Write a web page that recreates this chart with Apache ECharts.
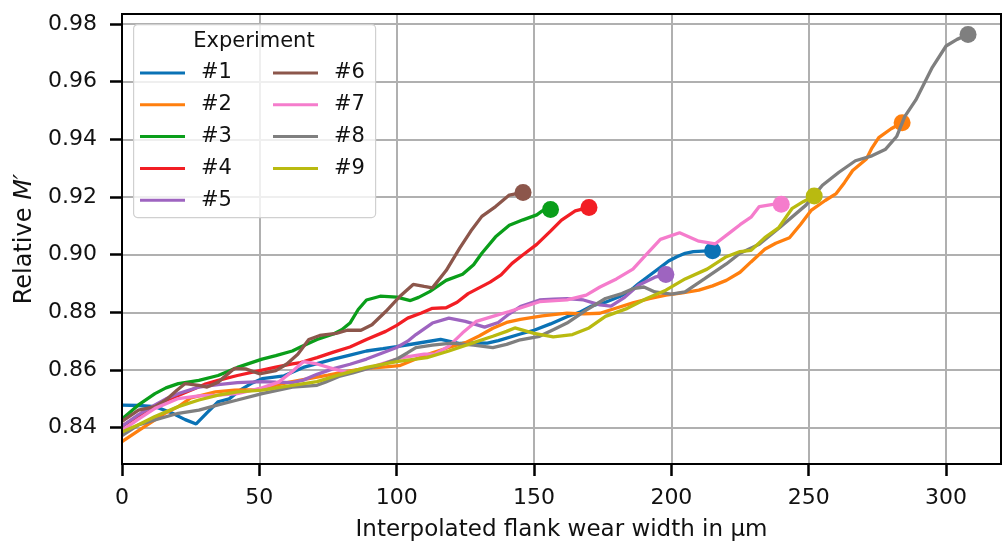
<!DOCTYPE html>
<html>
<head>
<meta charset="utf-8">
<script src="https://cdn.jsdelivr.net/npm/echarts@6/dist/echarts.min.js"></script>
<style>html,body{margin:0;padding:0;background:#fff;overflow:hidden}#c{width:1003px;height:547px}</style>
</head>
<body>
<div id="c"></div>
<script>
const seriesNames = ['#1','#2','#3','#4','#5','#6','#7','#8','#9'];
const xTicks = [0,50,100,150,200,250,300];
const yTicks = [0.84,0.86,0.88,0.90,0.92,0.94,0.96,0.98];

const s1 = [[0,0.8478],[6,0.8477],[12,0.8473],[18,0.8452],[23,0.8428],[27,0.8413],[31,0.8452],[35,0.849],[39,0.85],[43,0.853],[47,0.8553],[51,0.857],[59,0.858],[66,0.8609],[72,0.8625],[77,0.8638],[83,0.8652],[89,0.8666],[95,0.8674],[100,0.8681],[107,0.8692],[116,0.8706],[123,0.8692],[128,0.8694],[133,0.8693],[137,0.8702],[145,0.8725],[150,0.8738],[156,0.876],[162,0.8785],[167,0.8802],[171,0.8822],[176,0.8835],[181,0.8854],[185,0.8875],[188,0.8899],[192,0.8928],[196,0.8956],[199,0.8978],[202,0.8993],[205,0.9005],[208,0.9011],[215,0.9014]];
const s2 = [[0,0.8352],[6,0.839],[12,0.8427],[16,0.8452],[20.5,0.8473],[25,0.8503],[30,0.8515],[34,0.8524],[41,0.853],[49,0.8532],[55,0.8545],[61,0.8558],[68,0.857],[75,0.8582],[82,0.8595],[88,0.8605],[95,0.861],[101,0.8615],[107,0.8638],[113,0.866],[119,0.8678],[125,0.8695],[130,0.8718],[135,0.8745],[140,0.8765],[145,0.8776],[153,0.8788],[162,0.8797],[168,0.8795],[174,0.8797],[180,0.8815],[186,0.8833],[192,0.8848],[198,0.886],[204,0.8868],[210,0.8877],[215,0.8892],[220,0.8911],[225,0.8939],[229,0.8975],[234,0.9019],[238,0.904],[243,0.9059],[247,0.9105],[251,0.9155],[256,0.9188],[260,0.9212],[263,0.925],[266,0.9292],[271,0.9332],[273,0.937],[275.5,0.9406],[280,0.9437],[284,0.9458]];
const s3 = [[0,0.843],[6,0.8479],[12,0.8518],[16,0.8538],[20.5,0.8553],[28,0.8564],[35,0.8581],[42,0.8609],[51,0.8638],[56,0.865],[62,0.8666],[65,0.868],[71,0.8706],[77,0.8725],[80,0.874],[83,0.8763],[86,0.881],[89,0.8843],[94,0.8856],[100,0.8853],[105,0.8841],[108,0.8852],[112,0.8872],[118,0.8911],[124,0.8932],[128,0.8965],[131,0.9005],[136,0.9062],[141,0.9102],[146,0.9121],[151,0.9138],[153,0.9152],[156,0.9157]];
const s4 = [[0,0.8405],[5,0.8435],[10,0.8465],[15,0.849],[20,0.851],[25,0.853],[30,0.855],[35,0.8564],[42,0.8581],[51,0.86],[56,0.861],[62,0.8621],[65,0.8626],[71,0.8643],[77,0.8662],[83,0.868],[89,0.8706],[96,0.8734],[100,0.8755],[104,0.878],[109,0.8798],[113,0.8814],[118,0.8816],[122,0.8835],[126,0.8865],[130,0.8885],[134,0.8905],[138,0.893],[142,0.897],[146,0.9],[151,0.9036],[156,0.9082],[160,0.912],[165,0.9152],[170,0.9164]];
const s5 = [[0,0.8405],[6,0.8445],[12,0.8479],[16,0.85],[20.5,0.8518],[28,0.8541],[35,0.8549],[42,0.8556],[51,0.856],[56,0.8558],[62,0.8556],[66,0.8565],[71,0.8585],[77,0.8605],[83,0.862],[89,0.8638],[95,0.866],[100,0.8678],[104,0.87],[107,0.8723],[113,0.8763],[119,0.878],[125,0.8769],[132,0.8749],[137,0.8765],[141,0.8795],[145,0.882],[152,0.8843],[157,0.8846],[162,0.8848],[168,0.8843],[174,0.8826],[178,0.8822],[183,0.8852],[188,0.8894],[194,0.8922],[198,0.8931]];
const s6 = [[0,0.8422],[6,0.8461],[12,0.8473],[16,0.8496],[20,0.853],[23,0.8553],[28,0.8547],[31,0.8541],[35,0.8558],[41,0.8606],[45,0.8604],[50,0.8587],[56,0.8598],[60,0.8621],[64,0.8655],[68,0.8706],[72,0.872],[78,0.8727],[82,0.8738],[87,0.8738],[91,0.8757],[96,0.8803],[101,0.8854],[106,0.8897],[110,0.889],[113,0.8885],[118,0.8945],[123,0.9024],[127,0.9082],[131,0.9133],[136,0.9167],[141,0.9207],[146,0.9216]];
const s7 = [[0,0.839],[6,0.843],[12,0.8467],[20.5,0.8501],[28,0.851],[35,0.8513],[42,0.8518],[51,0.8538],[57,0.8558],[62,0.8595],[66,0.8629],[71,0.8621],[77,0.8604],[82,0.8592],[89,0.8604],[96,0.8626],[102,0.8643],[110,0.8655],[114,0.8656],[119,0.8683],[124,0.8729],[129,0.8769],[135,0.8786],[141,0.8803],[145,0.8815],[152,0.8837],[162,0.8843],[169,0.886],[174,0.8888],[180,0.8916],[186,0.895],[191,0.9002],[196,0.9053],[203,0.9076],[210,0.9047],[216,0.9038],[222,0.9082],[225,0.9104],[229,0.913],[232,0.9167],[237,0.9175],[240,0.9175]];
const s8 = [[0,0.8372],[6,0.841],[12,0.8427],[20.5,0.845],[28,0.8461],[35,0.8479],[42,0.8496],[51,0.8518],[62,0.8541],[71,0.8547],[74,0.8558],[79,0.8578],[84,0.859],[89,0.8604],[95,0.862],[100,0.8638],[104,0.866],[107,0.8678],[113,0.8686],[120,0.8693],[128,0.8686],[135,0.8678],[140,0.8689],[145,0.8705],[152,0.8717],[157,0.874],[162,0.8763],[169,0.8808],[176,0.8848],[182,0.8865],[186,0.8882],[190,0.8888],[194,0.8871],[200,0.8863],[205,0.8871],[212,0.8916],[220,0.8968],[225,0.9005],[232,0.9036],[240,0.9099],[249,0.9172],[255,0.9241],[261,0.9286],[267,0.9326],[273,0.9343],[278,0.9366],[282,0.941],[285,0.948],[289,0.9537],[295,0.965],[300,0.9724],[304,0.9747],[308,0.9764]];
const s9 = [[0,0.8385],[6,0.841],[12,0.8439],[20.5,0.8473],[28,0.8496],[35,0.8513],[42,0.8524],[51,0.853],[62,0.8547],[71,0.856],[79,0.8583],[89,0.8609],[100,0.8629],[111,0.8643],[119,0.8666],[128,0.8695],[135,0.8717],[140,0.8734],[143,0.8746],[150,0.8727],[157,0.8715],[164,0.8723],[170,0.8746],[176,0.8786],[184,0.8814],[191,0.8848],[198,0.8877],[205,0.8916],[213,0.895],[220,0.8993],[225,0.9011],[229,0.9015],[234,0.9059],[239,0.9093],[244,0.9161],[248,0.9184],[252,0.9204]];

const allData = [s1,s2,s3,s4,s5,s6,s7,s8,s9];
const colors = ['#0a72b5','#ff7f0e','#0a9e1a','#f21e24','#9e64c0','#8c564b','#f57ccc','#7f7f7f','#b9ba10'];
const FONT = 'DejaVu Sans';
const FS = 22;

const chart = echarts.init(document.getElementById('c'), null, {renderer:'canvas'});
const series = allData.map((d,i)=>({
  name: seriesNames[i],
  type: 'line',
  data: d,
  color: colors[i],
  lineStyle: {width: 3.3, color: colors[i]},
  itemStyle: {color: colors[i]},
  symbol: 'circle',
  showSymbol: true,
  showAllSymbol: true,
  symbolSize: (v,p)=> p.dataIndex === d.length-1 ? 17 : 0,
  z: 3+i,
  emphasis: {disabled: true},
  animation: false
}));

const legendCommon = {
  orient: 'vertical',
  icon: 'rect',
  itemWidth: 45,
  itemHeight: 3,
  itemGap: 5.8,
  textStyle: {fontFamily: FONT, fontSize: 21, color: '#111', lineHeight: 26, padding: [0,0,0,11]},
  selectedMode: false,
  z: 10
};

chart.setOption({
  animation: false,
  backgroundColor: '#fff',
  grid: {left: 122, width: 879, top: 14, height: 456, show: true, borderColor: '#000', borderWidth: 2, backgroundColor: 'transparent', z: 20},
  xAxis: {
    type: 'value', min: 0, max: 320,
    name: 'Interpolated flank wear width in µm',
    nameLocation: 'middle', nameGap: 55,
    nameTextStyle: {fontFamily: FONT, fontSize: 23, color: '#111'},
    axisLine: {show: true, lineStyle: {color: '#000', width: 2}},
    axisTick: {show: true, inside: false, length: 12, lineStyle: {color: '#000', width: 2.5}, customValues: xTicks},
    axisLabel: {fontFamily: FONT, fontSize: FS, color: '#111', margin: 23, customValues: xTicks},
    splitLine: {show: true, lineStyle: {color: '#b0b0b0', width: 2}}
  },
  yAxis: {
    type: 'value', min: 0.8274, max: 0.9835,
    name: '{a|Relative }{b|M′}',
    nameLocation: 'middle', nameGap: 78, nameRotate: 90,
    nameTextStyle: {fontFamily: FONT, fontSize: 24, color: '#111', rich: {a: {fontFamily: FONT, fontSize: 24, color:'#111'}, b: {fontFamily: FONT, fontSize: 24, fontStyle: 'italic', color:'#111'}}},
    axisLine: {show: true, lineStyle: {color: '#000', width: 2}},
    axisTick: {show: true, inside: false, length: 12, lineStyle: {color: '#000', width: 2.5}, customValues: yTicks},
    axisLabel: {fontFamily: FONT, fontSize: FS, color: '#111', margin: 25, customValues: yTicks, formatter: v => v.toFixed(2)},
    splitLine: {show: true, lineStyle: {color: '#b0b0b0', width: 2}}
  },
  graphic: [
    {type: 'rect', left: 133, top: 24, z: 9, shape: {width: 242, height: 193, r: 4}, style: {fill: 'rgba(255,255,255,0.8)', stroke: '#d0d0d0', lineWidth: 1.2}},
    {type: 'text', z: 11, x: 254, y: 42, style: {text: 'Experiment', fontFamily: FONT, fontSize: 21, fill: '#111', align: 'center', verticalAlign: 'middle'}}
  ],
  legend: [
    Object.assign({}, legendCommon, {left: 135, top: 55, data: seriesNames.slice(0,5)}),
    Object.assign({}, legendCommon, {left: 268, top: 55, data: seriesNames.slice(5)})
  ],
  series: series
});
</script>
</body>
</html>
